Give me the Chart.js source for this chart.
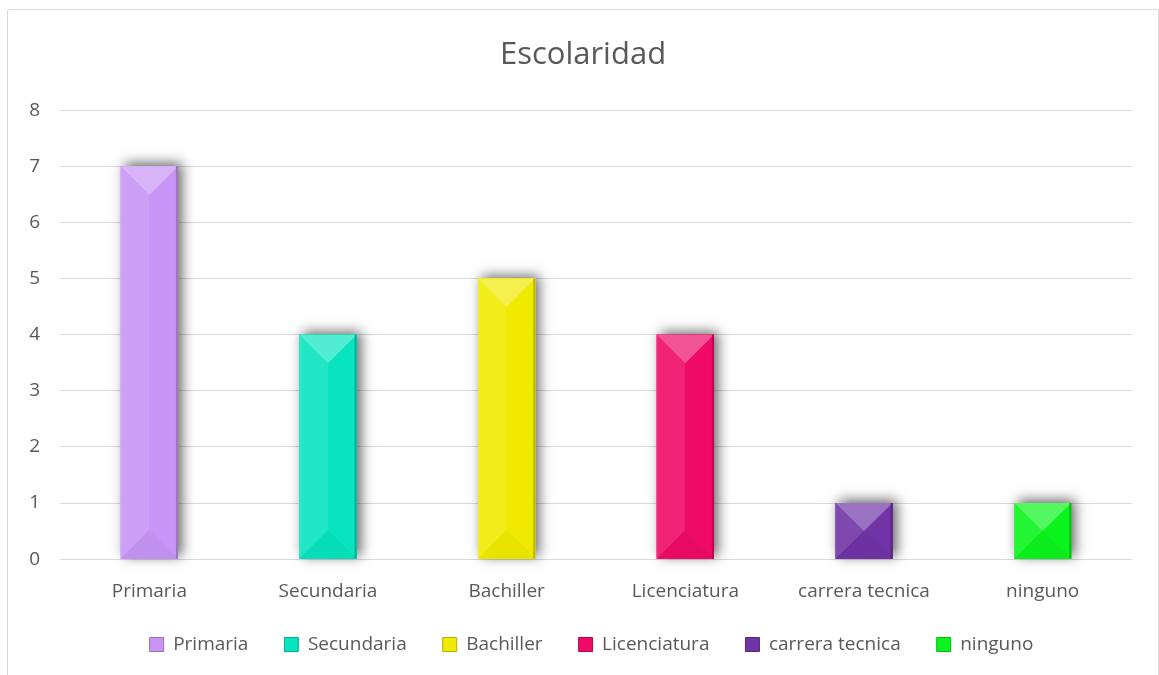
<!DOCTYPE html>
<html>
<head>
<meta charset="utf-8">
<script src="https://cdn.jsdelivr.net/npm/chart.js@4"></script>
<style>
  body { margin: 0; background: #fff; }
  #marco {
    position: absolute; left: 7px; top: 9px;
    width: 1150px; height: 700px;
    border: 1px solid #d9d9d9; border-radius: 2px;
  }
  #grafico { display: block; }
</style>
</head>
<body>
<div id="marco">
  <canvas id="grafico" width="1150" height="666"></canvas>
</div>
<script>
// datos
const categorias = ['Primaria', 'Secundaria', 'Bachiller', 'Licenciatura', 'carrera tecnica', 'ninguno'];
const valores = [7, 4, 5, 4, 1, 1];
const colores = ['#c894f6', '#08e4c0', '#f0ea00', '#ee0a66', '#7034a6', '#0af31c'];
const ticksY = [0, 1, 2, 3, 4, 5, 6, 7, 8];

const fuente = "'Open Sans', 'Noto Sans', sans-serif";
const gris = '#595959';

function mezclar(hex, destino, t) {
  const n = parseInt(hex.slice(1), 16);
  const r = (n >> 16) & 255, g = (n >> 8) & 255, b = n & 255;
  const d = destino === 'blanco' ? 255 : 0;
  const f = c => Math.round(c + (d - c) * t);
  return `rgb(${f(r)},${f(g)},${f(b)})`;
}

// sombra detras de cada barra
const sombra = {
  id: 'sombra',
  beforeDatasetsDraw(chart) {
    const c = chart.ctx;
    chart.getDatasetMeta(0).data.forEach((bar, i) => {
      const w = bar.width;
      c.save();
      c.shadowColor = 'rgba(0,0,0,0.6)';
      c.shadowBlur = 12;
      c.shadowOffsetX = 4;
      c.shadowOffsetY = -3;
      c.fillStyle = colores[i];
      c.fillRect(bar.x - w / 2, bar.y, w, bar.base - bar.y);
      c.restore();
    });
  }
};

// efecto biselado
const bisel = {
  id: 'bisel',
  afterDatasetsDraw(chart) {
    const c = chart.ctx;
    chart.getDatasetMeta(0).data.forEach((bar, i) => {
      const w = bar.width;
      const izq = bar.x - w / 2, der = bar.x + w / 2;
      const arriba = bar.y, abajo = bar.base;
      const h = abajo - arriba;
      const d = Math.min(w / 2, h / 2);
      const col = colores[i];
      c.save();
      c.fillStyle = mezclar(col, 'blanco', 0.1);
      c.fillRect(izq, arriba, w / 2, h);
      c.fillStyle = col;
      c.fillRect(bar.x, arriba, w / 2, h);
      // triangulo inferior
      c.fillStyle = mezclar(col, 'negro', 0.03);
      c.beginPath();
      c.moveTo(izq, abajo); c.lineTo(der, abajo); c.lineTo(bar.x, abajo - d); c.closePath();
      c.fill();
      // triangulo superior
      c.fillStyle = mezclar(col, 'blanco', 0.3);
      c.beginPath();
      c.moveTo(izq, arriba); c.lineTo(der, arriba); c.lineTo(bar.x, arriba + d); c.closePath();
      c.fill();
      // bordes
      c.fillStyle = mezclar(col, 'negro', 0.22);
      c.fillRect(der - 2, arriba, 2, h);
      c.fillStyle = mezclar(col, 'blanco', 0.2);
      c.fillRect(izq, arriba, 1, h);
      c.restore();
    });
  }
};

// mas espacio horizontal entre items de la leyenda sin hacerla mas alta
const paddingLeyenda = 19;
const extraLeyenda = 17;
const espacioLeyenda = {
  id: 'espacioLeyenda',
  afterLayout(chart) {
    const lg = chart.legend;
    if (!lg) return;
    lg.options.labels.padding = paddingLeyenda + extraLeyenda;
    lg.top -= extraLeyenda;
    lg.height += extraLeyenda;
    // recentrar: hay 5 huecos mas anchos
    const corr = (categorias.length - 1) * extraLeyenda / 2;
    lg.left -= corr;
    lg.right -= corr;
  }
};

const ctx = document.getElementById('grafico').getContext('2d');

new Chart(ctx, {
  type: 'bar',
  data: {
    labels: categorias,
    datasets: [{
      label: 'Escolaridad',
      data: valores,
      backgroundColor: colores,
      barPercentage: 0.32,
      categoryPercentage: 1,
    }]
  },
  options: {
    responsive: false,
    animation: false,
    layout: { padding: { left: 0, right: 0, top: 0, bottom: 12 } },
    scales: {
      x: {
        grid: { display: false },
        border: { display: false },
        ticks: { color: gris, font: { family: fuente, size: 19 }, padding: 13 },
      },
      y: {
        min: 0,
        max: 8,
        afterBuildTicks: s => { s.ticks = ticksY.map(v => ({ value: v })); },
        afterFit: s => { s.width = 52; },
        grid: { color: '#d9d9d9', drawTicks: false, lineWidth: 1 },
        border: { display: false },
        ticks: { color: gris, font: { family: fuente, size: 19 }, padding: 20 },
      },
      // eje vacio a la derecha solo para dejar margen
      margen: {
        type: 'linear',
        position: 'right',
        display: true,
        grid: { display: false },
        border: { display: false },
        ticks: { display: false },
        afterFit: s => { s.width = 26; },
      }
    },
    plugins: {
      title: {
        display: true,
        text: 'Escolaridad',
        color: gris,
        font: { family: fuente, size: 31, weight: 'normal' },
        padding: { top: 27, bottom: 36 },
      },
      legend: {
        display: true,
        position: 'bottom',
        labels: {
          color: gris,
          font: { family: fuente, size: 19 },
          boxWidth: 14,
          boxHeight: 14,
          padding: paddingLeyenda,
          generateLabels: () => categorias.map((cat, i) => ({
            text: cat,
            fillStyle: colores[i],
            strokeStyle: mezclar(colores[i], 'negro', 0.25),
            lineWidth: 1,
            fontColor: gris,
            index: i,
          })),
        }
      },
      tooltip: { enabled: false }
    }
  },
  plugins: [sombra, bisel, espacioLeyenda]
});
</script>
</body>
</html>
